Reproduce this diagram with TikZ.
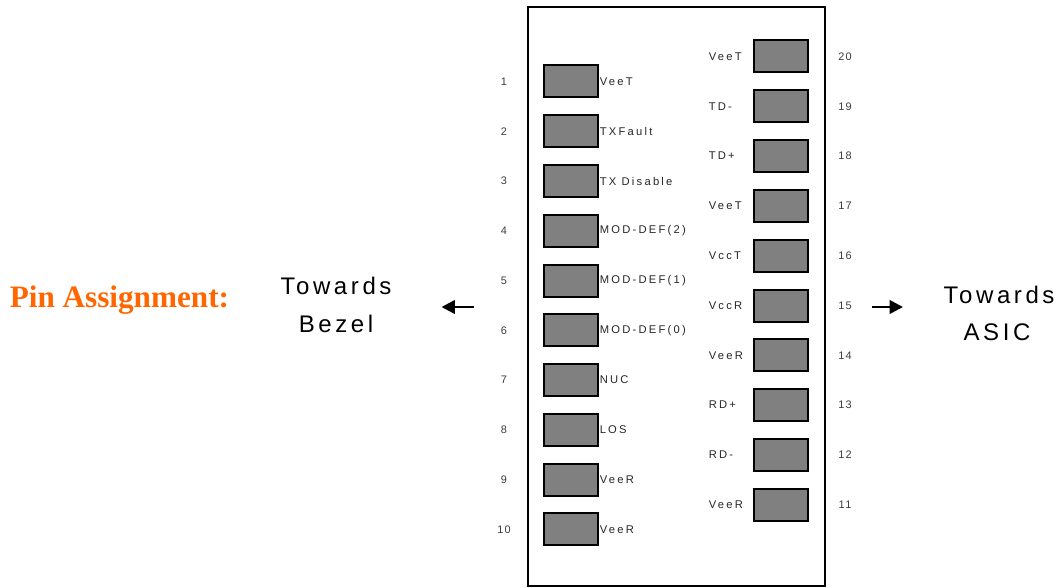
\documentclass[tikz,border=0pt]{standalone}
\usepackage{fontspec}
\usetikzlibrary{arrows.meta}
\newfontfamily\lblfont[LetterSpace=20]{Liberation Sans}
\newfontfamily\numfont[LetterSpace=12]{Liberation Sans}
\newfontfamily\bigfont[LetterSpace=15]{Liberation Sans}
\newfontfamily\titlefont{Liberation Serif}
\definecolor{padgray}{RGB}{128,128,128}
\definecolor{titleorange}{RGB}{255,102,0}
\definecolor{numgray}{RGB}{60,60,60}
\begin{document}
\begin{tikzpicture}[x=0.75pt,y=-0.75pt,
  pad/.style={draw=black,fill=padgray,line width=1.5pt,minimum width=41pt,minimum height=24pt,inner sep=0pt},
  pinlabel/.style={font=\lblfont\fontsize{8.4}{10}\selectfont,inner sep=0pt,text=black!85},
  pinnum/.style={font=\numfont\fontsize{8.2}{10}\selectfont,inner sep=0pt,text=numgray},
  bigtext/.style={font=\bigfont\fontsize{18}{22}\selectfont,inner sep=0pt,anchor=base},
  dirarrow/.style={line width=2pt,-{Triangle[length=10pt,width=10pt]}}]
\useasboundingbox (0,0) rectangle (1060,588);
% module outline
\node[draw=black,line width=1.2pt,minimum width=222.75pt,minimum height=434.25pt,inner sep=0pt] (module) at (676.5,296.5) {};
% left row: pins 1..10
\foreach \n/\t in {1/VeeT,2/TXFault,3/TX Disable,4/MOD-DEF(2),5/MOD-DEF(1),6/MOD-DEF(0),7/NUC,8/LOS,9/VeeR,10/VeeR}{
  \node[pad] (p\n) at (571,{81.5+(\n-1)*49.75}) {};
  \node[pinlabel,anchor=west] (l\n) at (599.5,{81.5+(\n-1)*49.75}) {\t};
  \node[pinnum] (n\n) at (504,{81.5+(\n-1)*49.75}) {\n};
}
% right row: pins 20..11
\foreach \k/\n/\t in {0/20/VeeT,1/19/TD-,2/18/TD+,3/17/VeeT,4/16/VccT,5/15/VccR,6/14/VeeR,7/13/RD+,8/12/RD-,9/11/VeeR}{
  \node[pad] (p\n) at (781,{56.5+\k*49.8}) {};
  \node[pinlabel,anchor=west] (l\n) at (708.5,{56.5+\k*49.8}) {\t};
  \node[pinnum] (n\n) at (845,{56.5+\k*49.8}) {\n};
}
% title
\node[font=\titlefont\bfseries\fontsize{23.4}{28}\selectfont,text=titleorange,anchor=base west,inner sep=0pt] (title) at (9.5,307) {Pin Assignment:};
% directions
\node[bigtext] (tb1) at (336,294) {Towards};
\node[bigtext] (tb2) at (336,332) {Bezel};
\node[bigtext] (ta1) at (999,303) {Towards};
\node[bigtext] (ta2) at (997,340) {ASIC};
\coordinate (la) at (473.5,307);
\coordinate (lb) at (441.5,307);
\coordinate (ra) at (871.5,307);
\coordinate (rb) at (903,307);
\draw[dirarrow] (la) -- (lb);
\draw[dirarrow] (ra) -- (rb);
\end{tikzpicture}
\end{document}
